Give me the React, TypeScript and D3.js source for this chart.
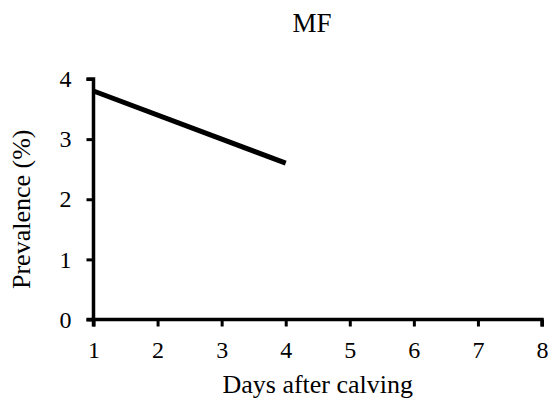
import React, { useEffect, useRef } from 'react';
import * as d3 from 'd3';

const days = [1, 4];
const prevalence = [3.8, 2.6];
const xTicks = [1, 2, 3, 4, 5, 6, 7, 8];
const yTicks = [0, 1, 2, 3, 4];

export default function App() {
  const svgRef = useRef<SVGSVGElement>(null);

  useEffect(() => {
    const width = 552;
    const height = 409;
    const margin = { top: 79, right: 10, bottom: 89.5, left: 93.5 };
    const font = '"Liberation Serif", "Times New Roman", serif';

    const svg = d3.select(svgRef.current);
    svg.selectAll('*').remove();

    const x = d3.scaleLinear().domain([1, 8]).range([margin.left, width - margin.right]);
    const y = d3.scaleLinear().domain([0, 4]).range([height - margin.bottom, margin.top]);

    // axes
    const xAxis = svg.append('g')
      .attr('transform', `translate(0,${y(0)})`)
      .call(d3.axisBottom(x).tickValues(xTicks).tickSize(7).tickPadding(14).tickFormat(d3.format('d')));
    const yAxis = svg.append('g')
      .attr('transform', `translate(${x(1)},0)`)
      .call(d3.axisLeft(y).tickValues(yTicks).tickSize(7).tickPadding(15).tickFormat(d3.format('d')));

    [xAxis, yAxis].forEach(g => {
      g.select('.domain').attr('stroke', '#000').attr('stroke-width', 3.5);
      g.selectAll('.tick line').attr('stroke', '#000').attr('stroke-width', 3);
      g.selectAll('.tick text')
        .attr('fill', '#000')
        .attr('font-family', font)
        .attr('font-size', '24px');
    });
    xAxis.select('.domain').attr('d', `M${x(1)},7V0H${x(8)}V7`);
    yAxis.select('.domain').attr('d', `M-7,${y(4)}H0V${y(0)}H-7`);

    // data line
    const line = d3.line<number>()
      .x((_, i) => x(days[i]))
      .y(d => y(d));
    svg.append('path')
      .datum(prevalence)
      .attr('d', line)
      .attr('fill', 'none')
      .attr('stroke', '#000')
      .attr('stroke-width', 5);

    // title
    svg.append('text')
      .attr('x', 312)
      .attr('y', 32)
      .attr('text-anchor', 'middle')
      .attr('font-family', font)
      .attr('font-size', '27px')
      .text('MF');

    svg.append('text')
      .attr('x', (x(1) + x(8)) / 2)
      .attr('y', 393)
      .attr('text-anchor', 'middle')
      .attr('font-family', font)
      .attr('font-size', '26px')
      .text('Days after calving');

    svg.append('text')
      .attr('transform', `translate(30,${(y(0) + y(4)) / 2 + 10}) rotate(-90)`)
      .attr('text-anchor', 'middle')
      .attr('font-family', font)
      .attr('font-size', '26px')
      .text('Prevalence (%)');
  }, []);

  return (
    <svg
      ref={svgRef}
      width={552}
      height={409}
      style={{ position: 'absolute', left: 0, top: 0, background: '#fff' }}
    />
  );
}
